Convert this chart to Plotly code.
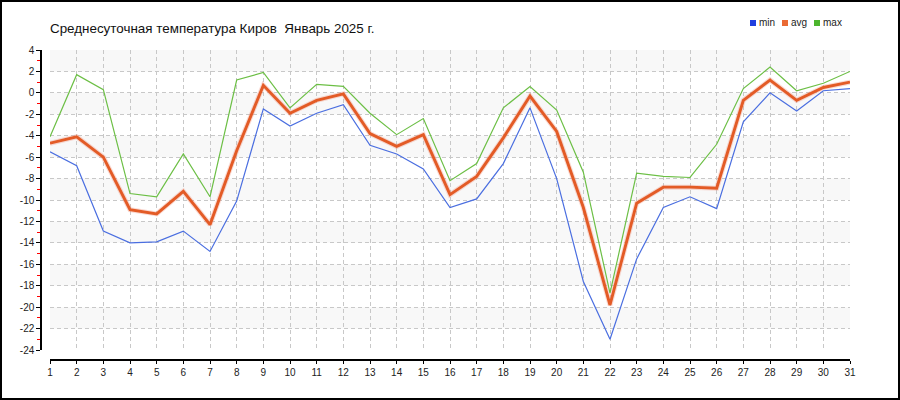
import plotly.graph_objects as go

days = list(range(1, 32))
t_min = [-5.5, -6.8, -12.9, -14.0, -13.9, -12.9, -14.8, -10.1, -1.5, -3.1, -1.9, -1.1, -4.9, -5.7, -7.1,
         -10.7, -9.9, -6.6, -1.4, -8.0, -17.6, -23.0, -15.5, -10.7, -9.7, -10.8, -2.7, 0.0, -1.7, 0.2, 0.4]
t_avg = [-4.7, -4.1, -6.0, -10.9, -11.3, -9.2, -12.3, -5.4, 0.7, -1.9, -0.7, -0.1, -3.8, -5.0, -3.9,
         -9.5, -7.8, -4.2, -0.3, -3.6, -10.7, -19.8, -10.3, -8.8, -8.8, -8.9, -0.7, 1.2, -0.7, 0.5, 1.0]
t_max = [-4.1, 1.7, 0.3, -9.4, -9.7, -5.7, -9.7, 1.2, 1.9, -1.4, 0.8, 0.6, -1.9, -3.9, -2.4,
         -8.2, -6.6, -1.4, 0.6, -1.6, -7.4, -18.7, -7.5, -7.8, -7.9, -4.8, 0.4, 2.4, 0.2, 0.9, 2.0]

y_ticks = list(range(4, -25, -2))
y_ticktext = [str(v) for v in y_ticks]
x_ticktext = [str(d) for d in days]

title_text = "Среднесуточная температура Киров  Январь 2025 г."
legend_names = ["min", "avg", "max"]
colors = {"min": "#4a6ee0", "avg": "#e35b26", "max": "#6cbf45"}
legend_colors = {"min": "#1f3fe0", "avg": "#ea6a34", "max": "#4cb52e"}

W, H = 900, 400
ML, MR, MT, MB = 41, 50, 50, 40
PW, PH = W - ML - MR, H - MT - MB


def px_x(x):
    return (x - ML) / PW


def px_y(y):
    return 1 - (y - MT) / PH


fig = go.Figure()

# shadow of avg line
fig.add_trace(go.Scatter(x=days, y=t_avg, mode="lines", showlegend=False, hoverinfo="skip",
                         line=dict(color="rgba(240,150,130,0.35)", width=5)))
fig.add_trace(go.Scatter(x=days, y=t_min, mode="lines", name="min", showlegend=False,
                         line=dict(color=colors["min"], width=1.2)))
fig.add_trace(go.Scatter(x=days, y=t_max, mode="lines", name="max", showlegend=False,
                         line=dict(color=colors["max"], width=1.2)))
fig.add_trace(go.Scatter(x=days, y=t_avg, mode="lines", name="avg", showlegend=False,
                         line=dict(color=colors["avg"], width=2.9)))

shapes = []
# alternating background bands
lo, hi = min(y_ticks), max(y_ticks)
for i, top in enumerate(range(hi, lo, -2)):
    if i % 2 == 0:
        shapes.append(dict(type="rect", xref="x domain", yref="y", x0=0, x1=1, y0=top - 2, y1=top,
                           fillcolor="#f8f8f8", line=dict(width=0), layer="below"))
# outer frame
shapes.append(dict(type="rect", xref="paper", yref="paper", x0=px_x(1), x1=px_x(899),
                   y0=px_y(399), y1=px_y(1), line=dict(color="black", width=2),
                   fillcolor="rgba(0,0,0,0)"))

annotations = []
leg_x = [750, 782, 814]
for name, lx in zip(legend_names, leg_x):
    shapes.append(dict(type="rect", xref="paper", yref="paper", x0=px_x(lx), x1=px_x(lx + 6),
                       y0=px_y(26), y1=px_y(20), fillcolor=legend_colors[name], line=dict(width=0)))
    annotations.append(dict(text=name, xref="paper", yref="paper", x=px_x(lx + 7), y=px_y(23),
                            xanchor="left", yanchor="middle", showarrow=False,
                            font=dict(family="Liberation Sans, Arial", size=10, color="#222")))

fig.update_layout(
    width=W, height=H,
    margin=dict(l=ML, r=MR, t=MT, b=MB, pad=0),
    paper_bgcolor="white", plot_bgcolor="white",
    title=dict(text=title_text, x=50 / W, xanchor="left", y=1 - 28 / H, yanchor="middle",
               font=dict(family="Liberation Sans, Arial", size=13.4, color="#111")),
    shapes=shapes, annotations=annotations,
    showlegend=False,
    xaxis=dict(domain=[(50 - ML) / PW, 1], range=[1, 31], anchor="free", position=0,
               tickvals=days, ticktext=x_ticktext, ticks="outside", ticklen=3, tickcolor="black",
               showline=True, linecolor="black", linewidth=1.5,
               showgrid=True, gridcolor="#c8c8c8", griddash="4px,3px", gridwidth=1,
               zeroline=False, tickfont=dict(family="Liberation Sans, Arial", size=10, color="#222")),
    yaxis=dict(domain=[10 / PH, 1], range=[-24, 4], anchor="free", position=0,
               tickvals=y_ticks, ticktext=y_ticktext, ticks="outside", ticklen=4, tickcolor="black",
               showline=True, linecolor="black", linewidth=1.5,
               showgrid=True, gridcolor="#c8c8c8", griddash="4px,3px", gridwidth=1,
               zeroline=False, tickfont=dict(family="Liberation Sans, Arial", size=10, color="#222"),
               minor=dict(dtick=1, ticks="outside", ticklen=3, tickcolor="red", showgrid=False)),
)

fig.write_html("out.html", config={"displayModeBar": False},
               post_script="document.body.style.margin='0';")
